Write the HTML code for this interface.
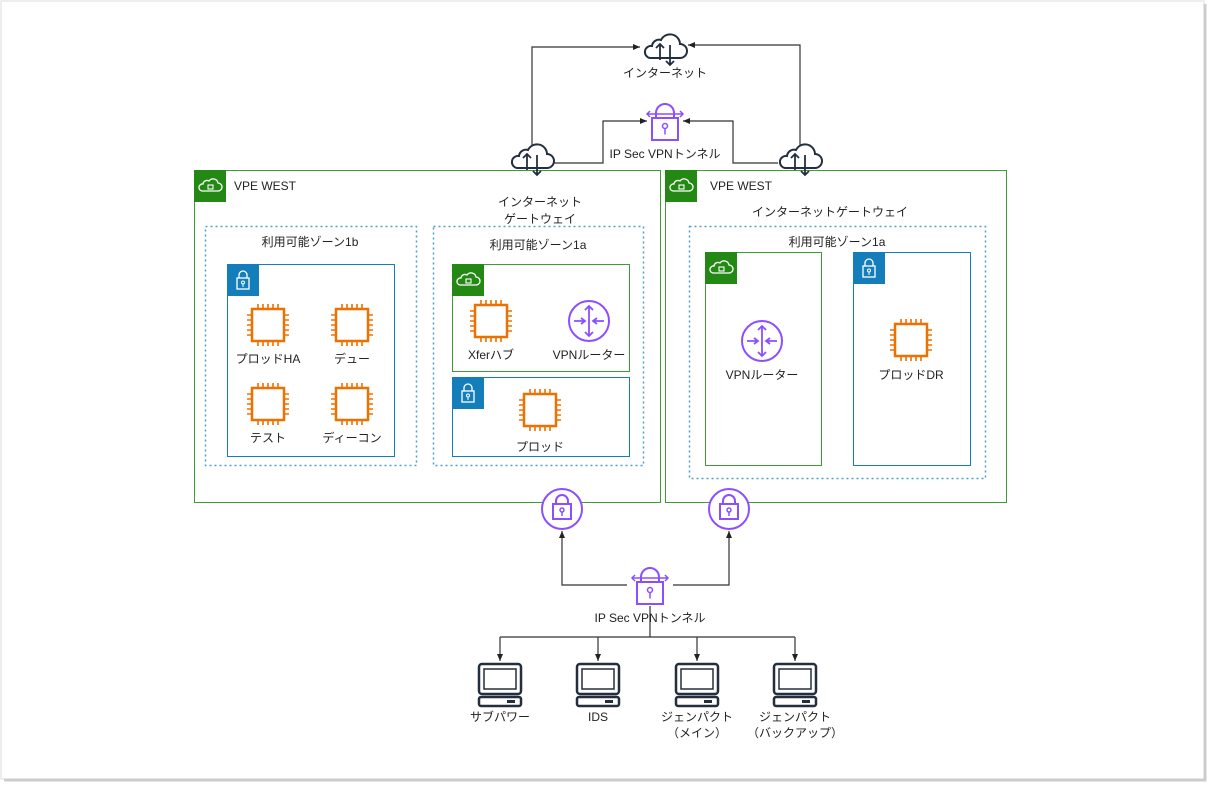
<!DOCTYPE html>
<html><head><meta charset="utf-8"><style>
body{margin:0;background:#fff;}
svg text{font-family:"Liberation Sans","Noto Sans CJK JP",sans-serif;font-size:12px;fill:#222;}
</style></head><body>
<svg width="1208" height="788" viewBox="0 0 1208 788" xmlns="http://www.w3.org/2000/svg">
<defs>
<marker id="ar" markerWidth="8" markerHeight="8" refX="7" refY="4" orient="auto" markerUnits="userSpaceOnUse"><path d="M0,1 L7,4 L0,7 Z" fill="#222"/></marker>
<g id="chip">
<rect x="-16" y="-16" width="32" height="32" fill="#fff" stroke="#ed7100" stroke-width="2.5"/>
<g stroke="#ed7100" stroke-width="1.6">
<path d="M-10,-16v-5M-5,-16v-5M0,-16v-5M5,-16v-5M10,-16v-5 M-10,16v5M-5,16v5M0,16v5M5,16v5M10,16v5 M-16,-10h-5M-16,-5h-5M-16,0h-5M-16,5h-5M-16,10h-5 M16,-10h5M16,-5h5M16,0h5M16,5h5M16,10h5"/>
</g></g>
<g id="router">
<circle r="20" fill="#fff" stroke="#8c4fff" stroke-width="2"/>
<g stroke="#8c4fff" stroke-width="1.8" fill="none">
<path d="M0,-15v30M-4,-11l4,-4l4,4M-4,11l4,4l4,-4M-15,0h11M-8,-3l4,3l-4,3M15,0h-11M8,-3l-4,3l4,3"/>
</g></g>
<g id="gcloud">
<rect x="0" y="0" width="32" height="32" fill="#248814"/>
<path d="M8,21 h16 a4,4 0 0 0 0,-8 a5,5 0 0 0 -9,-2 a4,4 0 0 0 -6,3 a3.5,3.5 0 0 0 -1,7z" fill="none" stroke="#fff" stroke-width="1.3"/>
<rect x="14" y="15" width="5" height="4" fill="none" stroke="#fff" stroke-width="1.1"/>
</g>
<g id="block">
<rect x="0" y="0" width="32" height="32" fill="#147eba"/>
<rect x="10" y="14" width="12" height="11" fill="none" stroke="#fff" stroke-width="1.3"/>
<path d="M12,14 v-3 a4,4 0 0 1 8,0 v3" fill="none" stroke="#fff" stroke-width="1.3"/>
<circle cx="16" cy="18.5" r="1.5" fill="none" stroke="#fff"/><path d="M16,20v3" stroke="#fff"/>
</g>
<g id="cloud">
<path d="M-15,8 h30 a7,7 0 0 0 0,-14 a10,10 0 0 0 -19,-4 a7,7 0 0 0 -9,6 a6,6 0 0 0 -2,12z" fill="#fff" stroke="#232f3e" stroke-width="2"/>
<path d="M-5,10v-16M-9,-2l4,-4l4,4M5,-5v20M1,11l4,4l4,-4" fill="none" stroke="#232f3e" stroke-width="1.8"/>
</g>
<g id="tunnel">
<rect x="-13" y="-2" width="26" height="22" fill="#fff" stroke="#8c4fff" stroke-width="2"/>
<path d="M-9,-2 v-5 a9,9 0 0 1 18,0 v5" fill="none" stroke="#8c4fff" stroke-width="2"/>
<path d="M-18,-6h36M-15,-9l-3,3l3,3M15,-9l3,3l-3,3" fill="none" stroke="#8c4fff" stroke-width="1.5"/>
<circle cx="0" cy="6" r="2.5" fill="none" stroke="#8c4fff" stroke-width="1.5"/><path d="M0,8.5v6" stroke="#8c4fff" stroke-width="1.5"/>
</g>
<g id="lockc">
<circle r="20" fill="#fff" stroke="#8c4fff" stroke-width="2"/>
<rect x="-9" y="-5" width="18" height="15" fill="none" stroke="#8c4fff" stroke-width="2"/>
<path d="M-6,-5v-3a6,6 0 0 1 12,0v3" fill="none" stroke="#8c4fff" stroke-width="2"/>
<circle cx="0" cy="1" r="2" fill="none" stroke="#8c4fff" stroke-width="1.5"/><path d="M0,3v4" stroke="#8c4fff" stroke-width="1.5"/>
</g>
<g id="mon">
<rect x="-21" y="-20" width="42" height="30" rx="3" fill="#fff" stroke="#232f3e" stroke-width="2.5"/>
<rect x="-16" y="-15" width="32" height="20" fill="none" stroke="#232f3e" stroke-width="1.5"/>
<rect x="-21" y="13" width="42" height="9" rx="2" fill="#fff" stroke="#232f3e" stroke-width="2.5"/>
<rect x="7" y="16" width="8" height="3" fill="#232f3e"/>
</g>
</defs>
<rect x="1" y="1" width="1203" height="778" fill="#fff" stroke="#ddd"/>
<path d="M4,780 H1205 V4" fill="none" stroke="#ccc" stroke-width="3"/>

<g fill="none" stroke="#333" stroke-width="1.2">
<path d="M532,148 V47 H640" marker-end="url(#ar)"/>
<path d="M800,148 V45 H688" marker-end="url(#ar)"/>
<path d="M553,163 H603 V121 H647" marker-end="url(#ar)"/>
<path d="M778,163 H733 V121 H683" marker-end="url(#ar)"/>
</g>
<use href="#cloud" x="665" y="50"/>
<text x="665" y="77" text-anchor="middle">インターネット</text>
<use href="#tunnel" x="665" y="120"/>
<text x="665" y="158" text-anchor="middle">IP Sec VPNトンネル</text>

<rect x="194.5" y="170.5" width="466" height="332" fill="none" stroke="#3f9c35"/>
<use href="#gcloud" x="194" y="170"/>
<text x="234" y="190">VPE WEST</text>
<rect x="665.5" y="170.5" width="341" height="332" fill="none" stroke="#3f9c35"/>
<use href="#gcloud" x="665" y="170"/>
<text x="710" y="190">VPE WEST</text>
<use href="#cloud" x="532" y="160"/>
<use href="#cloud" x="800" y="160"/>
<text x="540" y="206" text-anchor="middle">インターネット</text>
<text x="540" y="223" text-anchor="middle">ゲートウェイ</text>
<text x="830" y="216" text-anchor="middle">インターネットゲートウェイ</text>

<g fill="none" stroke="#4a9fd0" stroke-width="1.5" stroke-dasharray="2,3">
<rect x="205.5" y="226.5" width="211" height="239"/>
<rect x="433.5" y="226.5" width="210" height="239"/>
<rect x="689.5" y="226.5" width="296" height="252"/>
</g>
<text x="310" y="246" text-anchor="middle">利用可能ゾーン1b</text>
<text x="538" y="249" text-anchor="middle">利用可能ゾーン1a</text>
<text x="837" y="246" text-anchor="middle">利用可能ゾーン1a</text>

<rect x="227.5" y="264.5" width="167" height="192" fill="none" stroke="#147eba"/>
<use href="#block" x="227" y="264"/>
<use href="#chip" x="268" y="325"/><use href="#chip" x="352" y="325"/>
<use href="#chip" x="268" y="404"/><use href="#chip" x="352" y="404"/>
<text x="268" y="363" text-anchor="middle">プロッドHA</text>
<text x="352" y="363" text-anchor="middle">デュー</text>
<text x="268" y="442" text-anchor="middle">テスト</text>
<text x="352" y="442" text-anchor="middle">ディーコン</text>

<rect x="452.5" y="264.5" width="177" height="107" fill="none" stroke="#3f9c35"/>
<use href="#gcloud" x="452" y="264"/>
<use href="#chip" x="491" y="321"/>
<use href="#router" x="589" y="321"/>
<text x="491" y="359" text-anchor="middle">Xferハブ</text>
<text x="589" y="359" text-anchor="middle">VPNルーター</text>
<rect x="452.5" y="377.5" width="177" height="79" fill="none" stroke="#147eba"/>
<use href="#block" x="452" y="377"/>
<use href="#chip" x="540" y="410"/>
<text x="540" y="451" text-anchor="middle">プロッド</text>

<rect x="705.5" y="252.5" width="116" height="213" fill="none" stroke="#3f9c35"/>
<use href="#gcloud" x="705" y="252"/>
<use href="#router" x="762" y="341"/>
<text x="762" y="379" text-anchor="middle">VPNルーター</text>
<rect x="853.5" y="252.5" width="117" height="213" fill="none" stroke="#147eba"/>
<use href="#block" x="853" y="252"/>
<use href="#chip" x="911" y="340"/>
<text x="911" y="379" text-anchor="middle">プロッドDR</text>

<g fill="none" stroke="#333" stroke-width="1.2">
<path d="M627,585 H562 V531" marker-end="url(#ar)"/>
<path d="M673,585 H729 V531" marker-end="url(#ar)"/>
<path d="M650,606 V637 M500,637 H795"/>
<path d="M500,637 V661" marker-end="url(#ar)"/>
<path d="M598,637 V661" marker-end="url(#ar)"/>
<path d="M697,637 V661" marker-end="url(#ar)"/>
<path d="M795,637 V661" marker-end="url(#ar)"/>
</g>
<use href="#lockc" x="562" y="509"/>
<use href="#lockc" x="729" y="509"/>
<use href="#tunnel" x="650" y="584"/>
<text x="650" y="622" text-anchor="middle">IP Sec VPNトンネル</text>
<use href="#mon" x="500" y="684"/><use href="#mon" x="598" y="684"/>
<use href="#mon" x="697" y="684"/><use href="#mon" x="795" y="684"/>
<text x="500" y="721" text-anchor="middle">サブパワー</text>
<text x="598" y="721" text-anchor="middle">IDS</text>
<text x="697" y="721" text-anchor="middle">ジェンパクト</text>
<text x="697" y="737" text-anchor="middle">（メイン）</text>
<text x="795" y="721" text-anchor="middle">ジェンパクト</text>
<text x="795" y="737" text-anchor="middle">（バックアップ）</text>
</svg>
</body></html>
